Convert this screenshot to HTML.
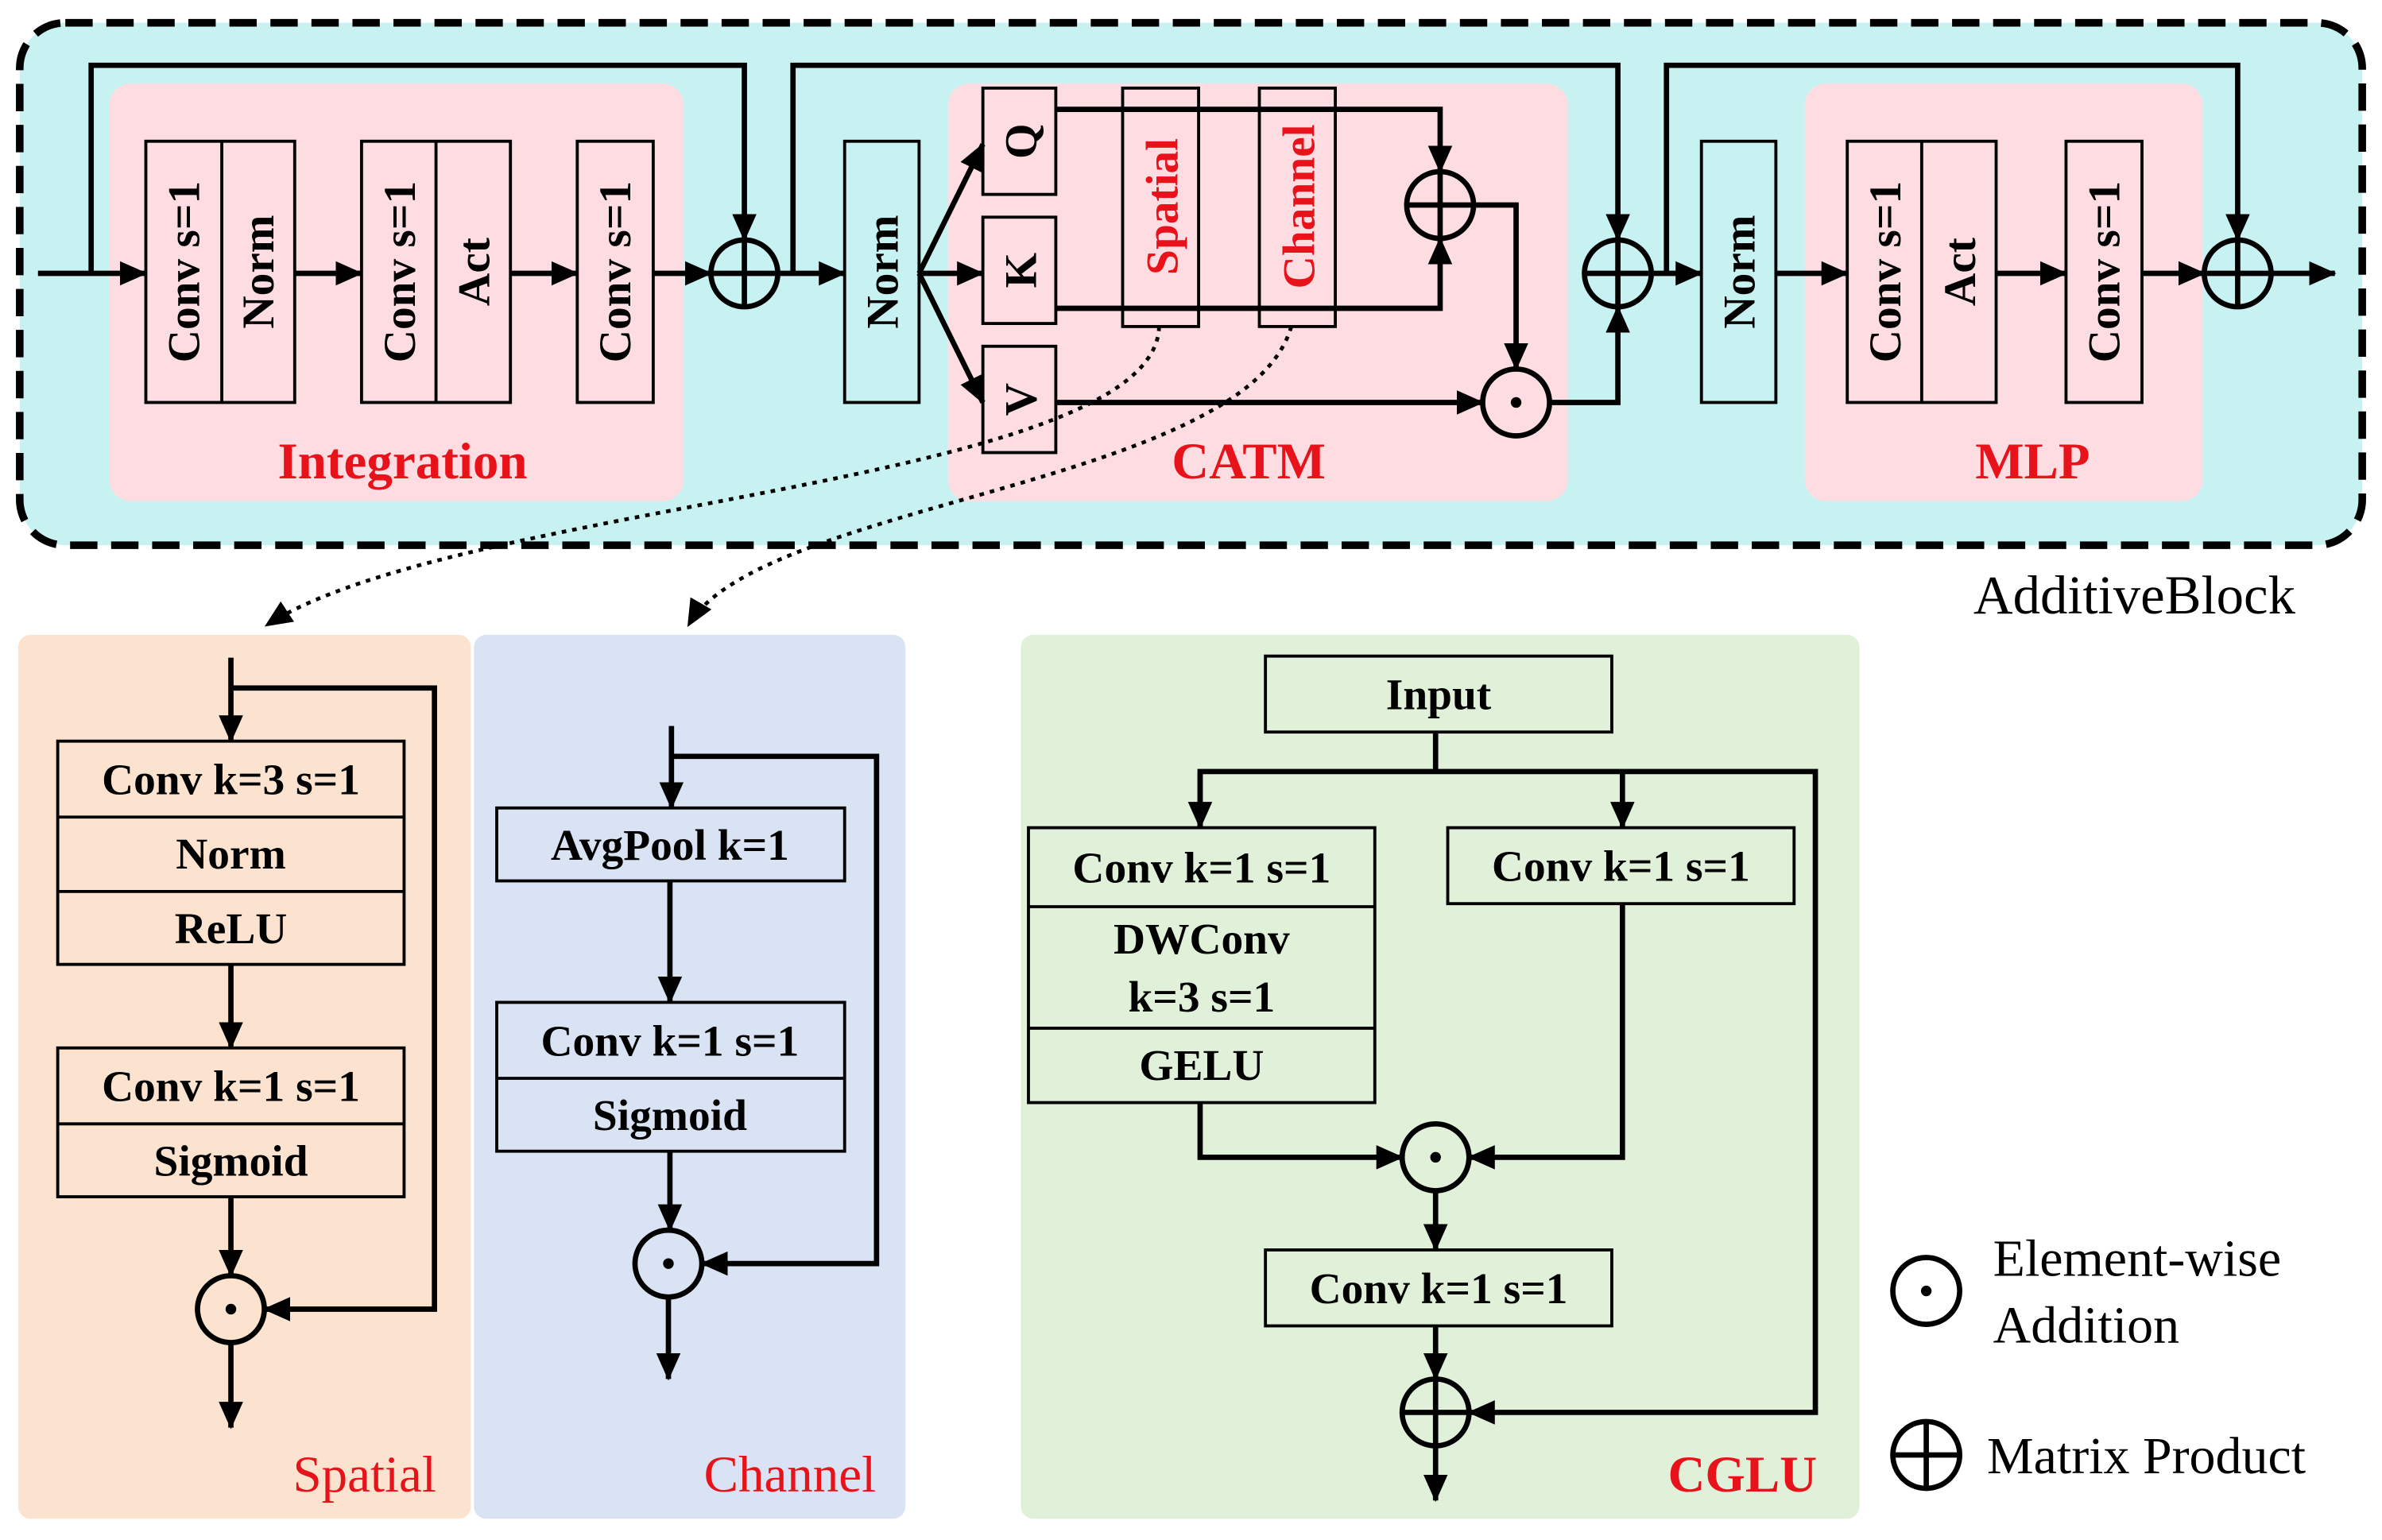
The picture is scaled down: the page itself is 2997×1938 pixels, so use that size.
<!DOCTYPE html>
<html><head><meta charset="utf-8"><style>
html,body{margin:0;padding:0;background:#fff;}
svg{display:block;}
text{font-family:"Liberation Serif",serif;}
</style></head><body>
<svg width="2997" height="1938" viewBox="0 0 1568 1014" preserveAspectRatio="none" xmlns="http://www.w3.org/2000/svg">
<defs>
<marker id="a" markerWidth="18" markerHeight="16" refX="17" refY="8" orient="auto" markerUnits="userSpaceOnUse">
<path d="M0,0 L18,8 L0,16 z" fill="#000"/></marker>
</defs>
<rect x="0" y="0" width="1568" height="1014" fill="#fff"/>
<rect x="13" y="15" width="1542" height="344" rx="30" fill="#c8f2f1" stroke="#000" stroke-width="5" stroke-dasharray="18,9"/>
<rect x="72" y="55" width="378" height="275" rx="14" fill="#fddde2"/>
<rect x="624" y="55" width="408" height="275" rx="14" fill="#fddde2"/>
<rect x="1188" y="55" width="262" height="275" rx="14" fill="#fddde2"/>
<g font-size="34" fill="#e8121b" text-anchor="middle" font-weight="bold">
<text x="265" y="315">Integration</text>
<text x="822" y="315">CATM</text>
<text x="1338" y="315">MLP</text>
</g>
<text x="1405" y="404" font-size="36" text-anchor="middle">AdditiveBlock</text>

<g fill="none" stroke="#000" stroke-width="2">
<rect x="96" y="93" width="98" height="172"/><line x1="146" y1="93" x2="146" y2="265"/>
<rect x="238" y="93" width="98" height="172"/><line x1="287" y1="93" x2="287" y2="265"/>
<rect x="380" y="93" width="50" height="172"/>
<rect x="556" y="93" width="49" height="172"/>
<rect x="647" y="58" width="48" height="70"/>
<rect x="647" y="143" width="48" height="70"/>
<rect x="647" y="228" width="48" height="70"/>
<rect x="739" y="58" width="50" height="157"/>
<rect x="829" y="58" width="50" height="157"/>
<rect x="1120" y="93" width="49" height="172"/>
<rect x="1216" y="93" width="98" height="172"/><line x1="1265" y1="93" x2="1265" y2="265"/>
<rect x="1360" y="93" width="50" height="172"/>
</g>
<g font-size="30" font-weight="bold" text-anchor="middle">
<text transform="translate(131,179) rotate(-90)">Conv s=1</text>
<text transform="translate(180,179) rotate(-90)">Norm</text>
<text transform="translate(273,179) rotate(-90)">Conv s=1</text>
<text transform="translate(322,179) rotate(-90)">Act</text>
<text transform="translate(415,179) rotate(-90)">Conv s=1</text>
<text transform="translate(591,179) rotate(-90)">Norm</text>
<text transform="translate(682,93) rotate(-90)">Q</text>
<text transform="translate(682,178) rotate(-90)">K</text>
<text transform="translate(682,263) rotate(-90)">V</text>
<text transform="translate(775,136) rotate(-90)" fill="#e8121b">Spatial</text>
<text transform="translate(865,136) rotate(-90)" fill="#e8121b">Channel</text>
<text transform="translate(1155,179) rotate(-90)">Norm</text>
<text transform="translate(1251,179) rotate(-90)">Conv s=1</text>
<text transform="translate(1300,179) rotate(-90)">Act</text>
<text transform="translate(1395,179) rotate(-90)">Conv s=1</text>
</g>

<g fill="none" stroke="#000" stroke-width="3.5">
<line x1="25" y1="180" x2="96" y2="180" marker-end="url(#a)"/>
<polyline points="60,180 60,43 490,43 490,158" marker-end="url(#a)"/>
<line x1="194" y1="180" x2="238" y2="180" marker-end="url(#a)"/>
<line x1="336" y1="180" x2="380" y2="180" marker-end="url(#a)"/>
<line x1="430" y1="180" x2="468" y2="180" marker-end="url(#a)"/>
<line x1="512" y1="180" x2="556" y2="180" marker-end="url(#a)"/>
<polyline points="522,180 522,43 1065,43 1065,158" marker-end="url(#a)"/>
<line x1="605" y1="180" x2="647" y2="95" marker-end="url(#a)"/>
<line x1="605" y1="180" x2="647" y2="180" marker-end="url(#a)"/>
<line x1="605" y1="180" x2="647" y2="265" marker-end="url(#a)"/>
<polyline points="695,72 948,72 948,113" marker-end="url(#a)"/>
<polyline points="695,203 948,203 948,157" marker-end="url(#a)"/>
<polyline points="970,135 998,135 998,243" marker-end="url(#a)"/>
<line x1="695" y1="265" x2="976" y2="265" marker-end="url(#a)"/>
<polyline points="1020,265 1065,265 1065,202" marker-end="url(#a)"/>
<line x1="1087" y1="180" x2="1120" y2="180" marker-end="url(#a)"/>
<polyline points="1097,180 1097,43 1473,43 1473,158" marker-end="url(#a)"/>
<line x1="1169" y1="180" x2="1216" y2="180" marker-end="url(#a)"/>
<line x1="1314" y1="180" x2="1360" y2="180" marker-end="url(#a)"/>
<line x1="1410" y1="180" x2="1451" y2="180" marker-end="url(#a)"/>
<line x1="1495" y1="180" x2="1537" y2="180" marker-end="url(#a)"/>
<circle cx="490" cy="180" r="22"/><line x1="468" y1="180" x2="512" y2="180"/><line x1="490" y1="158" x2="490" y2="202"/>
<circle cx="948" cy="135" r="22"/><line x1="926" y1="135" x2="970" y2="135"/><line x1="948" y1="113" x2="948" y2="157"/>
<circle cx="1065" cy="180" r="22"/><line x1="1043" y1="180" x2="1087" y2="180"/><line x1="1065" y1="158" x2="1065" y2="202"/>
<circle cx="1473" cy="180" r="22"/><line x1="1451" y1="180" x2="1495" y2="180"/><line x1="1473" y1="158" x2="1473" y2="202"/>
<circle cx="998" cy="265" r="22"/>
</g>
<circle cx="998" cy="265" r="3.5" fill="#000"/>
<g fill="none" stroke="#000" stroke-width="2.5" stroke-dasharray="3,4">
<path d="M763,215 C760,320 300,330 175,412" marker-end="url(#a)"/>
<path d="M850,215 C820,320 500,330 453,412" marker-end="url(#a)"/>
</g>

<rect x="12" y="418" width="298" height="582" rx="8" fill="#fbe3cf"/>
<rect x="312" y="418" width="284" height="582" rx="8" fill="#d9e3f3"/>
<rect x="672" y="418" width="552" height="582" rx="8" fill="#e0f0d9"/>
<g font-size="34" fill="#e8121b" text-anchor="middle">
<text x="240" y="982">Spatial</text>
<text x="520" y="982">Channel</text>
<text x="1147" y="982" font-weight="bold">CGLU</text>
</g>
<g fill="none" stroke="#000" stroke-width="2">
<rect x="38" y="488" width="228" height="147"/><line x1="38" y1="538" x2="266" y2="538"/><line x1="38" y1="587" x2="266" y2="587"/>
<rect x="38" y="690" width="228" height="98"/><line x1="38" y1="740" x2="266" y2="740"/>
<rect x="327" y="532" width="229" height="48"/>
<rect x="327" y="660" width="229" height="98"/><line x1="327" y1="710" x2="556" y2="710"/>
<rect x="833" y="432" width="228" height="50"/>
<rect x="677" y="545" width="228" height="181"/><line x1="677" y1="597" x2="905" y2="597"/><line x1="677" y1="677" x2="905" y2="677"/>
<rect x="953" y="545" width="228" height="50"/>
<rect x="833" y="823" width="228" height="50"/>
</g>
<g font-size="29" font-weight="bold" text-anchor="middle">
<text x="152" y="523">Conv k=3 s=1</text>
<text x="152" y="572">Norm</text>
<text x="152" y="621">ReLU</text>
<text x="152" y="725">Conv k=1 s=1</text>
<text x="152" y="774">Sigmoid</text>
<text x="441" y="566">AvgPool k=1</text>
<text x="441" y="695">Conv k=1 s=1</text>
<text x="441" y="744">Sigmoid</text>
<text x="947" y="467">Input</text>
<text x="791" y="581">Conv k=1 s=1</text>
<text x="791" y="628">DWConv</text>
<text x="791" y="666">k=3 s=1</text>
<text x="791" y="711">GELU</text>
<text x="1067" y="580">Conv k=1 s=1</text>
<text x="947" y="858">Conv k=1 s=1</text>
</g>
<g fill="none" stroke="#000" stroke-width="3.5">
<line x1="152" y1="433" x2="152" y2="488" marker-end="url(#a)"/>
<polyline points="152,453 286,453 286,862 174,862" marker-end="url(#a)"/>
<line x1="152" y1="635" x2="152" y2="690" marker-end="url(#a)"/>
<line x1="152" y1="788" x2="152" y2="840" marker-end="url(#a)"/>
<circle cx="152" cy="862" r="22"/>
<line x1="152" y1="884" x2="152" y2="940" marker-end="url(#a)"/>
<line x1="442" y1="478" x2="442" y2="532" marker-end="url(#a)"/>
<polyline points="442,498 577,498 577,832 462,832" marker-end="url(#a)"/>
<line x1="441" y1="580" x2="441" y2="660" marker-end="url(#a)"/>
<line x1="441" y1="758" x2="441" y2="810" marker-end="url(#a)"/>
<circle cx="440" cy="832" r="22"/>
<line x1="440" y1="854" x2="440" y2="908" marker-end="url(#a)"/>
<line x1="945" y1="482" x2="945" y2="508"/>
<polyline points="790,545 790,508 1195,508 1195,930 967,930" marker-end="url(#a)"/>
<line x1="790" y1="508" x2="790" y2="545" marker-end="url(#a)"/>
<line x1="1068" y1="508" x2="1068" y2="545" marker-end="url(#a)"/>
<polyline points="790,726 790,762 923,762" marker-end="url(#a)"/>
<polyline points="1068,595 1068,762 967,762" marker-end="url(#a)"/>
<circle cx="945" cy="762" r="22"/>
<line x1="945" y1="784" x2="945" y2="823" marker-end="url(#a)"/>
<line x1="945" y1="873" x2="945" y2="908" marker-end="url(#a)"/>
<circle cx="945" cy="930" r="22"/><line x1="923" y1="930" x2="967" y2="930"/><line x1="945" y1="908" x2="945" y2="952"/>
<line x1="945" y1="952" x2="945" y2="988" marker-end="url(#a)"/>
<circle cx="1268" cy="850" r="22"/>
<circle cx="1268" cy="958" r="22"/><line x1="1246" y1="958" x2="1290" y2="958"/><line x1="1268" y1="936" x2="1268" y2="980"/>
</g>
<g fill="#000">
<circle cx="152" cy="862" r="3.5"/><circle cx="440" cy="832" r="3.5"/><circle cx="945" cy="762" r="3.5"/><circle cx="1268" cy="850" r="3.5"/>
</g>
<g font-size="34.5">
<text x="1312" y="840">Element-wise</text>
<text x="1312" y="884">Addition</text>
<text x="1308" y="970">Matrix Product</text>
</g>
</svg>
</body></html>
